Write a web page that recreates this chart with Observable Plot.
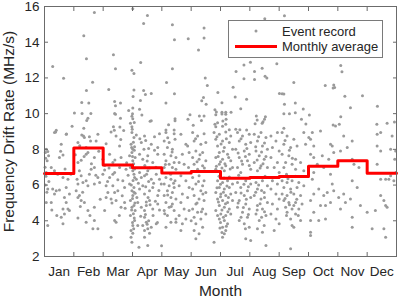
<!DOCTYPE html>
<html><head><meta charset="utf-8">
<script src="https://cdn.jsdelivr.net/npm/d3@7"></script>
<script src="https://cdn.jsdelivr.net/npm/@observablehq/plot@0.6"></script>
<style>html,body{margin:0;padding:0;background:#fff}</style>
</head><body>
<script>
const monthLabels = ["Jan","Feb","Mar","Apr","May","Jun","Jul","Aug","Sep","Oct","Nov","Dec"];
const monthlyAverage = [6.65, 8.08, 7.13, 6.97, 6.68, 6.76, 6.38, 6.42, 6.48, 7.06, 7.36, 6.66];
const yTicks = [2, 4, 6, 8, 10, 12, 14, 16];
const monthBoundaries = [1, 2, 3, 4, 5, 6, 7, 8, 9, 10, 11];
const legendLabels = ["Event record", "Monthly average"];

// event records: [position in months from 1 Jan, drift rate MHz/s]
const eventsJan = [[0.28,12.64],[0.65,11.98],[0.94,9.3],[0.4,9.07],[0.38,8.97],[0.75,8.86],[0.34,8.94],[0.74,8.84],[0.57,8.29],[0.06,8.01],[0.11,7.88],[0.03,7.82],[0.09,7.36],[0.14,7.64],[0.51,7.54],[0.63,7.69],[0.06,6.71],[0.23,6.99],[0.34,6.8],[0.63,6.43],[0.8,6.33],[0.11,5.78],[0.28,5.78],[0.4,5.68],[0.51,5.72],[0.34,5.5],[0.74,5.87],[0.06,5.03],[0.23,5.03],[0.68,5.31],[0.74,5.03],[0.63,4.66],[0.8,4.66],[0.57,4.2],[0.68,4.38],[0.85,4.57],[0.63,3.83],[0.11,3.73],[0.02,7.0],[0.05,6.5],[0.03,6.0],[0.08,5.6],[0.04,7.5],[0.15,6.2],[0.45,6.6],[0.55,7.9],[0.85,5.5],[0.9,6.6],[0.25,4.6],[0.42,4.3],[0.7,6.9]];
const eventsFeb = [[1.70,15.66],[1.34,14.36],[1.43,13.08],[1.64,11.76],[1.43,11.3],[1.27,10.63],[1.51,10.59],[1.02,10.03],[1.28,10.01],[1.58,10.01],[1.48,9.74],[1.44,9.62],[1.34,9.18],[1.33,8.75],[1.57,8.47],[1.27,8.81],[1.36,8.66],[1.53,8.7],[1.82,8.84],[1.14,8.38],[1.42,8.1],[1.76,8.47],[1.14,7.26],[1.25,7.39],[1.42,7.73],[1.48,7.82],[1.7,7.54],[1.99,7.45],[1.11,6.33],[1.19,6.8],[1.25,6.52],[1.42,6.24],[1.53,6.61],[1.59,6.89],[1.7,6.99],[1.82,6.43],[1.99,6.61],[1.08,5.68],[1.14,6.06],[1.19,5.41],[1.31,6.15],[1.48,5.96],[1.7,6.06],[1.88,6.15],[1.14,5.31],[1.25,5.13],[1.36,5.03],[1.48,4.57],[1.7,4.76],[1.14,4.16],[1.42,3.92],[1.7,4.01],[1.65,3.55],[1.82,3.55],[1.05,7.7],[1.2,8.2],[1.35,7.6],[1.6,7.2],[1.75,6.55],[1.9,5.2],[1.3,5.6],[1.55,4.3],[1.85,7.9],[1.22,4.8]];
const eventsMar = [[2.35,13.3],[2.42,12.52],[2.98,12.43],[2.19,11.35],[2.39,10.68],[2.59,10.59],[2.42,10.44],[2.87,10.18],[2.39,10.01],[2.42,9.96],[2.98,9.86],[2.59,9.74],[2.93,9.46],[2.35,9.27],[2.57,9.25],[2.98,9.27],[2.99,9.13],[2.38,9.07],[2.7,9.05],[2.27,8.97],[2.44,8.75],[2.98,8.94],[2.1,8.32],[2.56,8.19],[2.95,8.29],[2.22,7.73],[2.33,7.26],[2.61,7.54],[2.9,7.64],[2.98,7.82],[2.05,6.84],[2.22,6.43],[2.33,6.61],[2.39,6.71],[2.56,6.99],[2.67,6.24],[2.78,6.89],[2.93,6.99],[2.1,5.96],[2.16,5.59],[2.33,5.96],[2.39,5.59],[2.5,5.68],[2.73,5.87],[2.9,6.06],[2.98,5.68],[2.05,4.57],[2.1,5.31],[2.27,5.22],[2.44,5.13],[2.61,4.76],[2.73,5.03],[2.93,5.13],[2.98,4.76],[2.39,4.01],[2.44,3.92],[2.93,4.29],[2.95,3.45],[2.27,3.08],[2.95,3.08],[2.98,2.8],[2.05,7.1],[2.2,6.95],[2.4,7.4],[2.5,6.3],[2.65,5.4],[2.3,5.0],[2.55,4.3],[2.75,4.7],[2.15,6.2],[2.85,6.55],[2.6,8.55],[2.8,7.25],[2.97,8.1],[2.98,7.05],[2.96,6.0],[2.97,4.6]];
const eventsApr = [[3.51,15.5],[3.38,15.05],[3.01,15.87],[3.28,12.86],[3.05,12.25],[3.05,11.33],[3.38,11.3],[3.64,11.13],[3.44,11.07],[3.02,10.96],[3.27,10.74],[3.01,10.31],[3.24,10.25],[3.0,10.0],[3.32,9.92],[3.01,9.72],[3.64,9.6],[3.6,9.58],[3.06,9.5],[3.05,8.66],[3.13,8.81],[3.41,8.75],[3.75,8.7],[3.92,8.88],[3.01,8.01],[3.07,8.14],[3.3,8.38],[3.39,8.01],[3.64,8.29],[3.86,8.1],[3.01,7.36],[3.09,7.54],[3.24,7.73],[3.35,7.45],[3.52,7.64],[3.69,7.26],[3.86,7.73],[3.01,6.8],[3.07,6.43],[3.05,6.61],[3.13,6.33],[3.24,6.71],[3.3,6.43],[3.41,6.52],[3.52,6.8],[3.64,6.33],[3.81,6.61],[3.92,6.33],[3.05,5.87],[3.01,5.41],[3.09,5.54],[3.24,5.78],[3.35,5.96],[3.41,5.5],[3.58,5.68],[3.69,5.87],[3.86,5.41],[3.98,6.06],[3.05,4.85],[3.09,4.57],[3.18,5.03],[3.3,4.76],[3.41,4.57],[3.47,4.85],[3.58,5.13],[3.69,4.66],[3.86,4.94],[3.01,3.73],[3.07,4.01],[3.18,3.73],[3.35,3.73],[3.41,4.2],[3.47,3.92],[3.52,3.55],[3.64,3.64],[3.81,3.83],[3.41,3.45],[3.52,2.62],[3.41,3.08],[3.03,8.4],[3.06,7.95],[3.0,7.6],[3.04,7.2],[3.07,6.9],[3.02,6.25],[3.05,5.6],[3.0,5.25],[3.08,5.0],[3.03,4.4],[3.06,4.15],[3.0,3.9],[3.04,3.55],[3.01,3.3],[3.45,8.5],[3.55,8.05],[3.5,7.35],[3.42,7.1],[3.58,6.95],[3.48,6.6],[3.55,6.2],[3.45,5.9],[3.53,5.3],[3.47,5.05],[3.6,4.9],[3.44,4.35],[3.55,4.0],[3.5,3.8],[3.58,3.3],[3.22,2.52],[3.99,2.6],[3.75,7.95],[3.8,7.0],[3.72,6.1],[3.9,5.7],[3.78,5.1],[3.92,4.6],[3.7,4.3],[3.85,3.9],[3.25,8.6],[3.2,6.1],[3.15,5.3],[3.28,4.25]];
const eventsMay = [[4.36,14.98],[4.43,14.14],[4.90,14.2],[4.36,12.52],[4.16,11.74],[4.43,11.11],[4.14,10.59],[4.96,9.94],[4.45,9.72],[4.45,9.6],[4.89,9.68],[4.23,9.38],[4.14,9.08],[4.42,9.08],[4.14,8.94],[4.42,8.88],[4.08,8.47],[4.25,8.38],[4.45,8.56],[4.19,8.1],[4.36,8.01],[4.08,7.73],[4.31,7.64],[4.48,7.54],[4.14,7.36],[4.42,7.26],[4.25,7.17],[4.08,6.99],[4.36,6.99],[4.48,6.89],[4.14,6.43],[4.31,6.33],[4.45,6.24],[4.08,6.06],[4.25,5.96],[4.42,5.87],[4.19,5.68],[4.36,5.59],[4.08,5.41],[4.31,5.31],[4.48,5.22],[4.14,5.03],[4.36,4.94],[4.25,4.76],[4.08,4.57],[4.42,4.57],[4.19,4.29],[4.48,4.1],[4.31,3.92],[4.14,3.64],[4.48,3.92],[4.65,8.84],[4.82,8.29],[4.88,8.19],[4.7,7.73],[4.93,7.82],[4.59,7.26],[4.76,7.17],[4.91,6.99],[4.65,6.52],[4.82,6.24],[4.59,5.96],[4.93,5.87],[4.7,5.5],[4.88,5.31],[4.65,5.03],[4.76,4.66],[4.93,4.57],[4.59,4.29],[4.82,4.1],[4.7,3.83],[4.65,3.45],[4.2,8.65],[4.35,7.85],[4.12,7.15],[4.3,6.6],[4.4,6.1],[4.2,5.45],[4.32,4.8],[4.1,4.4]];
const eventsJun = [[5.44,14.79],[5.44,14.23],[5.25,13.57],[5.48,12.0],[5.55,11.58],[5.91,11.19],[5.42,10.91],[5.36,10.72],[5.51,10.52],[5.81,10.22],[5.28,9.87],[5.44,9.87],[5.84,9.94],[5.86,10.09],[5.35,9.62],[5.9,9.49],[5.07,9.35],[5.81,9.4],[5.84,9.27],[5.05,8.94],[5.22,8.75],[5.44,8.88],[5.1,8.47],[5.33,8.29],[5.5,8.38],[5.16,7.91],[5.39,7.82],[5.05,7.54],[5.27,7.45],[5.5,7.36],[5.1,7.17],[5.39,7.08],[5.22,6.89],[5.05,6.43],[5.27,6.52],[5.44,6.24],[5.16,6.06],[5.39,5.96],[5.05,5.78],[5.33,5.68],[5.5,5.59],[5.1,5.41],[5.27,5.22],[5.44,5.13],[5.16,4.94],[5.05,4.66],[5.39,4.66],[5.22,4.48],[5.5,4.38],[5.1,4.2],[5.33,4.1],[5.16,3.83],[5.39,3.64],[5.1,3.45],[5.27,3.27],[5.16,2.99],[5.78,8.94],[5.96,8.84],[5.84,8.56],[5.9,8.19],[5.96,7.82],[5.84,7.54],[5.96,7.17],[5.84,6.89],[5.9,6.24],[5.96,5.87],[5.84,5.59],[5.9,5.22],[5.96,4.85],[5.84,4.57],[5.96,4.1],[5.78,2.8],[5.88,8.7],[5.92,7.6],[5.86,7.05],[5.95,6.5],[5.88,5.85],[5.93,5.05],[5.9,4.3],[5.98,3.6],[5.15,8.6],[5.3,7.7],[5.2,7.3],[5.45,6.95],[5.25,6.2],[5.4,5.5],[5.2,5.0],[5.35,4.5],[5.0,4.0]];
const eventsJul = [[6.8,12.73],[6.53,12.36],[6.8,11.95],[6.43,11.48],[6.5,10.93],[6.89,10.8],[6.05,10.61],[6.69,10.28],[6.05,10.08],[6.18,10.08],[6.05,9.98],[6.18,9.97],[6.36,10.08],[6.08,9.59],[6.19,9.68],[6.07,9.3],[6.18,9.4],[6.3,9.1],[6.52,9.12],[6.66,9.1],[6.89,9.08],[6.18,8.97],[6.35,8.75],[6.07,8.47],[6.3,8.38],[6.13,8.1],[6.41,8.01],[6.24,7.73],[6.07,7.45],[6.35,7.36],[6.18,7.08],[6.41,6.99],[6.13,6.8],[6.07,6.15],[6.24,6.24],[6.41,6.06],[6.13,5.78],[6.3,5.87],[6.01,5.5],[6.18,5.41],[6.35,5.5],[6.07,5.13],[6.24,5.03],[6.41,5.13],[6.13,4.76],[6.3,4.66],[6.01,4.38],[6.18,4.29],[6.35,4.38],[6.13,4.01],[6.24,3.83],[6.07,3.64],[6.18,3.45],[6.13,3.27],[6.07,3.08],[6.58,8.94],[6.75,8.75],[6.98,8.84],[6.64,8.47],[6.86,8.29],[6.52,8.01],[6.81,7.91],[6.98,7.73],[6.64,7.54],[6.92,7.36],[6.75,7.17],[6.58,6.99],[6.69,6.71],[6.58,6.15],[6.86,6.24],[6.69,5.87],[6.92,5.68],[6.52,5.59],[6.81,5.41],[6.64,5.13],[6.86,4.94],[6.58,4.76],[6.98,4.66],[6.75,4.48],[6.92,4.2],[6.64,4.01],[6.81,3.83],[6.98,3.64],[6.86,2.99],[6.02,8.3],[6.2,8.6],[6.1,7.9],[6.28,7.55],[6.0,7.3],[6.15,7.2],[6.33,6.9],[6.05,6.95],[6.12,6.4],[6.3,6.45],[6.0,6.05],[6.22,5.95],[6.1,5.6],[6.27,5.3],[6.0,5.35],[6.17,4.95],[6.05,4.6],[6.25,4.5],[6.1,4.2],[6.0,3.9],[6.2,3.7],[6.05,3.35],[6.7,8.6],[6.9,8.05],[6.6,7.8],[6.85,7.6],[6.72,7.35],[6.98,7.1],[6.62,6.55],[6.8,6.05],[6.95,5.9],[6.7,5.55],[6.88,5.2],[6.6,5.0],[6.78,4.75],[6.95,4.35],[6.7,4.2],[6.85,3.55]];
const eventsAug = [[7.51,15.31],[7.02,12.88],[7.92,12.8],[7.42,12.54],[7.16,12.36],[7.52,12.1],[7.58,12.0],[7.16,11.91],[7.22,9.87],[7.53,9.83],[7.5,9.68],[7.45,9.55],[7.42,9.46],[7.25,9.64],[7.18,9.44],[7.03,8.38],[7.03,6.89],[7.03,6.06],[7.03,5.31],[7.03,2.89],[7.15,8.84],[7.38,8.94],[7.55,8.66],[7.26,8.47],[7.43,8.19],[7.21,7.91],[7.6,8.01],[7.32,7.64],[7.49,7.45],[7.15,7.26],[7.38,7.08],[7.6,6.99],[7.26,6.8],[7.21,6.15],[7.43,6.24],[7.6,5.96],[7.26,5.78],[7.49,5.59],[7.15,5.41],[7.38,5.22],[7.6,5.03],[7.26,4.85],[7.43,4.66],[7.21,4.38],[7.55,4.29],[7.32,4.01],[7.49,3.73],[7.26,3.55],[7.43,3.36],[7.55,2.62],[7.72,8.75],[7.94,8.94],[7.89,8.47],[7.77,8.1],[7.72,7.54],[7.94,7.26],[7.83,6.99],[7.77,6.24],[7.94,6.06],[7.72,5.78],[7.89,5.5],[7.77,4.94],[7.94,4.66],[7.72,4.38],[7.89,4.1],[7.83,3.45],[7.3,8.7],[7.5,8.35],[7.2,8.15],[7.4,7.85],[7.55,7.6],[7.25,7.4],[7.45,7.2],[7.35,6.95],[7.52,6.5],[7.3,6.0],[7.4,5.7],[7.2,5.6],[7.5,5.3],[7.35,4.95],[7.25,4.6],[7.5,4.5],[7.4,4.2]];
const eventsSep = [[8.01,11.13],[8.18,15.48],[8.5,11.74],[8.16,11.1],[8.1,11.12],[8.18,10.52],[8.55,10.59],[8.82,10.26],[8.16,10.0],[8.35,10.0],[8.55,10.05],[8.76,9.68],[8.91,9.42],[8.16,9.18],[8.0,7.91],[8.0,6.71],[8.0,5.22],[8.0,3.83],[8.1,8.94],[8.27,8.75],[8.5,8.56],[8.84,8.94],[8.16,8.29],[8.39,8.1],[8.61,8.19],[8.9,8.29],[8.1,7.73],[8.33,7.64],[8.56,7.45],[8.22,7.26],[8.44,7.17],[8.73,7.26],[8.16,6.99],[8.56,6.89],[8.84,6.8],[8.1,6.24],[8.27,6.15],[8.44,6.24],[8.67,6.15],[8.16,5.87],[8.39,5.78],[8.61,5.87],[8.84,5.96],[8.1,5.5],[8.27,5.41],[8.5,5.5],[8.73,5.41],[8.16,5.13],[8.33,5.03],[8.56,5.03],[8.78,4.94],[8.22,4.76],[8.44,4.66],[8.67,4.66],[8.27,4.48],[8.56,4.38],[8.39,4.1],[8.73,4.01],[8.44,3.73],[8.5,3.64],[8.39,2.43],[8.2,8.5],[8.35,7.95],[8.45,7.5],[8.25,6.6],[8.55,6.5],[8.3,6.35],[8.4,5.6],[8.2,5.25],[8.6,5.2],[8.35,4.9],[8.5,4.85],[8.25,4.3],[8.65,4.3]];
const eventsOct = [[9.57,11.58],[9.86,11.6],[9.89,11.46],[9.84,11.44],[9.03,9.92],[9.84,9.36],[9.92,9.31],[9.41,9.03],[9.01,8.66],[9.13,8.94],[9.07,8.56],[9.18,8.19],[9.75,8.29],[9.81,8.19],[9.07,7.73],[9.18,7.54],[9.47,7.64],[9.69,7.45],[9.3,7.17],[9.52,6.99],[9.18,6.71],[9.75,6.61],[9.13,6.33],[9.81,6.06],[9.35,5.78],[9.64,5.59],[9.18,5.5],[9.52,5.41],[9.86,5.68],[9.07,5.13],[9.41,4.85],[9.58,4.85],[9.75,5.03],[9.18,4.48],[9.35,4.01],[9.58,4.1],[9.07,4.01],[9.07,3.36],[9.07,3.17],[9.86,7.82]];
const eventsNov = [[10.1,12.69],[10.14,12.34],[10.24,10.98],[10.84,11.0],[10.43,10.33],[10.1,9.83],[10.05,9.4],[10.2,8.75],[10.49,8.47],[10.09,7.91],[10.32,8.1],[10.49,7.45],[10.72,6.99],[10.55,7.17],[10.03,5.31],[10.09,4.66],[10.26,5.03],[10.43,5.22],[10.49,6.24],[10.66,5.87],[10.49,4.2],[10.49,3.64],[10.77,4.85],[10.2,5.5]];
const eventsDec = [[11.35,10.42],[11.33,9.4],[11.68,9.46],[11.93,9.53],[11.34,8.84],[11.46,8.94],[11.85,8.75],[11.34,8.19],[11.46,7.91],[11.8,8.01],[11.97,7.91],[11.34,7.17],[11.46,6.33],[11.63,6.33],[11.74,6.33],[11.91,6.24],[11.8,6.52],[11.46,5.41],[11.57,5.13],[11.63,4.85],[11.68,4.76],[11.0,4.48],[11.28,4.57],[11.17,3.55],[11.57,3.55],[11.63,3.08],[11.98,6.71],[11.94,7.45]];

const events = [eventsJan, eventsFeb, eventsMar, eventsApr, eventsMay, eventsJun, eventsJul, eventsAug, eventsSep, eventsOct, eventsNov, eventsDec]
  .flat().map(([m, rate]) => ({m, rate}));
const steps = monthlyAverage.map((v, i) => ({m: i, v})).concat([{m: monthlyAverage.length, v: monthlyAverage[monthlyAverage.length - 1]}]);
const monthCenters = monthLabels.map((_, i) => i + 0.5);

const axisColor = "#6b6b6b";
const textColor = "#262626";
const font = "'Liberation Sans', Arial, Helvetica, sans-serif";

const chart = Plot.plot({
  width: 398, height: 299,
  marginLeft: 44, marginRight: 2, marginTop: 6, marginBottom: 43,
  x: {domain: [0, 12]},
  y: {domain: [2, 16]},
  style: {fontFamily: font, fontSize: "13px", color: textColor, background: "#fff", overflow: "visible"},
  marks: [
    Plot.dot(events, {x: "m", y: "rate", r: 1.5, fill: "#9a9a9a"}),
    Plot.line(steps, {x: "m", y: "v", curve: "step-after", stroke: "#ff0000", strokeWidth: 3}),
    Plot.frame({stroke: axisColor, strokeWidth: 1}),
    Plot.axisX(monthBoundaries, {anchor: "bottom", tickSize: 4, dy: -4, tickFormat: () => "", label: null, stroke: axisColor}),
    Plot.axisX(monthBoundaries, {anchor: "top", tickSize: 4, dy: 4, tickFormat: () => "", label: null, stroke: axisColor}),
    Plot.axisY(yTicks, {anchor: "left", tickSize: 4, dx: 4, tickFormat: () => "", label: null, stroke: axisColor}),
    Plot.axisY(yTicks, {anchor: "right", tickSize: 4, dx: -4, tickFormat: () => "", label: null, stroke: axisColor}),
    Plot.axisX(monthCenters, {anchor: "bottom", tickSize: 0, tickPadding: 10, tickFormat: (d) => monthLabels[Math.floor(d)], label: null, fontSize: 13.5, fill: textColor}),
    Plot.axisY(yTicks, {anchor: "left", tickSize: 0, tickPadding: 5, label: null, fontSize: 13.5, fill: textColor}),
    Plot.text(["Month"], {frameAnchor: "bottom", dy: 34.5, lineAnchor: "middle", textAnchor: "middle", fontSize: 15.5, fill: textColor}),
    Plot.text(["Frequency Drift Rate (MHz/s)"], {frameAnchor: "left", dx: -35, rotate: -90, textAnchor: "middle", lineAnchor: "middle", fontSize: 15.5, fill: textColor})
  ]
});
document.body.appendChild(chart);

// legend inside the axes (top-right), MATLAB style
const svg = d3.select(chart);
const lg = svg.append("g").attr("font-family", font).attr("font-size", 13).attr("fill", textColor).attr("text-anchor", "start");
lg.append("rect").attr("x", 228.5).attr("y", 20.5).attr("width", 154).attr("height", 37)
  .attr("fill", "#fff").attr("stroke", "#7a7a7a").attr("stroke-width", 1);
lg.append("circle").attr("cx", 256).attr("cy", 31).attr("r", 1.5).attr("fill", "#9a9a9a");
lg.append("line").attr("x1", 235).attr("x2", 277).attr("y1", 46.5).attr("y2", 46.5)
  .attr("stroke", "#ff0000").attr("stroke-width", 3);
lg.append("text").attr("x", 282).attr("y", 35.5).attr("text-anchor", "start").text(legendLabels[0]);
lg.append("text").attr("x", 282).attr("y", 51).attr("text-anchor", "start").text(legendLabels[1]);
</script>
</body></html>
